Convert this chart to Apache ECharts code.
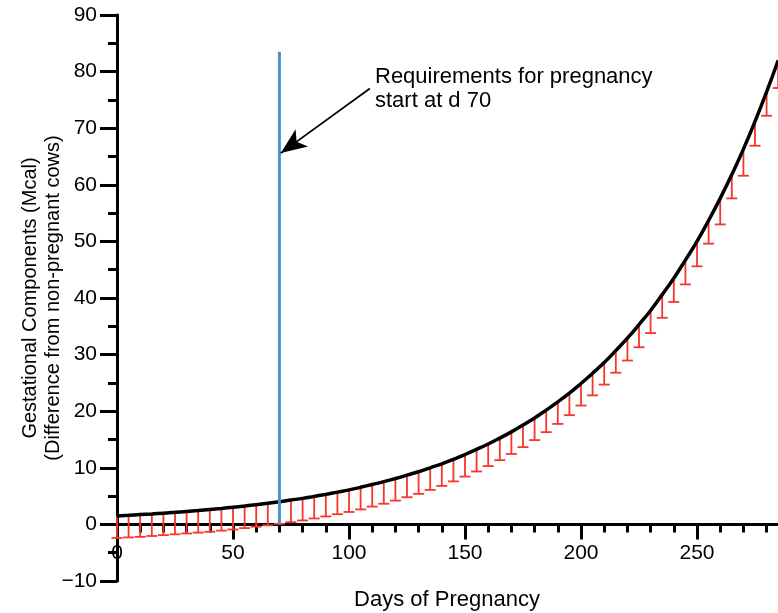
<!DOCTYPE html>
<html>
<head>
<meta charset="utf-8">
<script src="https://cdn.jsdelivr.net/npm/echarts@6/dist/echarts.min.js"></script>
<style>
html,body{margin:0;padding:0;background:#fff;}
#chart{width:778px;height:613px;}
</style>
</head>
<body>
<div id="chart"></div>
<script>
// Days of pregnancy (5-day steps)
var days = [0,5,10,15,20,25,30,35,40,45,50,55,60,65,70,75,80,85,90,95,100,105,110,115,120,125,130,135,140,145,150,155,160,165,170,175,180,185,190,195,200,205,210,215,220,225,230,235,240,245,250,255,260,265,270,275,280,285];
// Gestational components (Mcal), fitted curve
var gestation = [1.5,1.61,1.73,1.85,1.99,2.13,2.29,2.45,2.63,2.82,3.03,3.25,3.49,3.74,4.0,4.3,4.6,4.95,5.3,5.7,6.1,6.55,7.05,7.55,8.1,8.7,9.3,10.0,10.7,11.5,12.35,13.25,14.2,15.25,16.35,17.55,18.8,20.2,21.65,23.2,24.9,26.7,28.6,30.7,32.9,35.3,37.8,40.6,43.5,46.7,50.0,53.7,57.6,61.8,66.3,71.2,76.4,82.0];
// Lower end of error bars
var lower = [-2.4,-2.3,-2.2,-2.05,-1.9,-1.75,-1.6,-1.45,-1.3,-1.1,-0.9,-0.65,-0.4,-0.15,0.1,0.4,0.7,1.05,1.4,1.8,2.2,2.65,3.15,3.65,4.2,4.8,5.4,6.1,6.8,7.6,8.45,9.35,10.3,11.35,12.45,13.65,14.9,16.3,17.75,19.3,21.0,22.8,24.7,26.8,28.95,31.3,33.8,36.5,39.3,42.4,45.6,49.6,53.0,57.6,61.6,66.9,72.2,77.1];
// Vertical marker at d 70
var markerDay = 70;
var markerTop = 83.5;
// Annotation arrow (tail -> tip) in data coords
var arrowTail = [109, 77];
var arrowTip = [70.6, 65.6];
var annotationText = 'Requirements for pregnancy\nstart at d 70';

var curveData = days.map(function(d, i){ return [d, gestation[i]]; });
var errData = days.map(function(d, i){ return [d, lower[i], gestation[i]]; });

var FONT = 'Liberation Sans, Arial, Helvetica, sans-serif';
var GRID_H = 566, Y_MIN = -10, Y_MAX = 90;
// shift x axis from grid bottom up to the y = 0 level
var xOffset = -GRID_H * (0 - Y_MIN) / (Y_MAX - Y_MIN);

var chart = echarts.init(document.getElementById('chart'), null, {renderer:'canvas'});
chart.setOption({
  animation: false,
  backgroundColor: '#fff',
  grid: {left: 117, top: 15, width: 696, height: GRID_H, containLabel: false, outerBoundsMode: 'none'},
  xAxis: {
    type: 'value', min: 0, max: 300, interval: 50,
    offset: xOffset,
    axisLine: {onZero: false, lineStyle: {color: '#000', width: 3}},
    axisTick: {show: true, length: 15, lineStyle: {color: '#000', width: 3}},
    minorTick: {show: true, splitNumber: 5, length: 8, lineStyle: {color: '#000', width: 3}},
    splitLine: {show: false},
    axisLabel: {fontSize: 21, color: '#000', margin: 18, fontFamily: FONT, showMaxLabel: false},
    name: 'Days of Pregnancy', nameLocation: 'middle', nameGap: 65, nameMoveOverlap: false,
    nameTextStyle: {fontSize: 22, color: '#000', fontFamily: FONT, padding: [0, 36, 0, 0]}
  },
  yAxis: {
    type: 'value', min: Y_MIN, max: Y_MAX, interval: 10,
    axisLine: {onZero: false, lineStyle: {color: '#000', width: 3}},
    axisTick: {show: true, length: 17, lineStyle: {color: '#000', width: 3}},
    minorTick: {show: true, splitNumber: 2, length: 9, lineStyle: {color: '#000', width: 3}},
    splitLine: {show: false},
    axisLabel: {fontSize: 21, color: '#000', margin: 20, fontFamily: FONT,
      formatter: function(v){ return String(v).replace('-', '\u2212'); }},
    name: 'Gestational Components (Mcal)\n(Difference from non-pregnant cows)',
    nameLocation: 'middle', nameGap: 52, nameMoveOverlap: false,
    nameTextStyle: {fontSize: 20, lineHeight: 23, color: '#000', fontFamily: FONT}
  },
  series: [
    {
      type: 'custom',
      data: errData,
      z: 2,
      renderItem: function(params, api){
        var x = api.value(0);
        var lo = api.coord([x, api.value(1)]);
        var hi = api.coord([x, api.value(2)]);
        var cap = 5.5;
        var st = {stroke: '#f7352a', lineWidth: 1.8};
        return {
          type: 'group',
          children: [
            {type: 'line', shape: {x1: hi[0], y1: hi[1], x2: lo[0], y2: lo[1]}, style: st},
            {type: 'line', shape: {x1: lo[0]-cap, y1: lo[1], x2: lo[0]+cap, y2: lo[1]}, style: st}
          ]
        };
      }
    },
    {
      type: 'line',
      data: curveData,
      smooth: true,
      symbol: 'none',
      z: 3,
      lineStyle: {color: '#000', width: 3.5}
    },
    {
      type: 'line',
      data: [[markerDay, 0], [markerDay, markerTop]],
      symbol: 'none',
      z: 4,
      lineStyle: {color: '#4a92cc', width: 3},
      markLine: {
        silent: true,
        symbol: ['none', 'arrow'],
        symbolSize: [16, 26],
        label: {show: false},
        lineStyle: {color: '#000', width: 1.8, type: 'solid'},
        data: [[{coord: arrowTail}, {coord: arrowTip}]]
      }
    }
  ],
  graphic: [
    {
      type: 'text', left: 375, top: 65,
      style: {text: annotationText, font: '22px ' + FONT, lineHeight: 24, fill: '#000'}
    }
  ]
});
</script>
</body>
</html>
